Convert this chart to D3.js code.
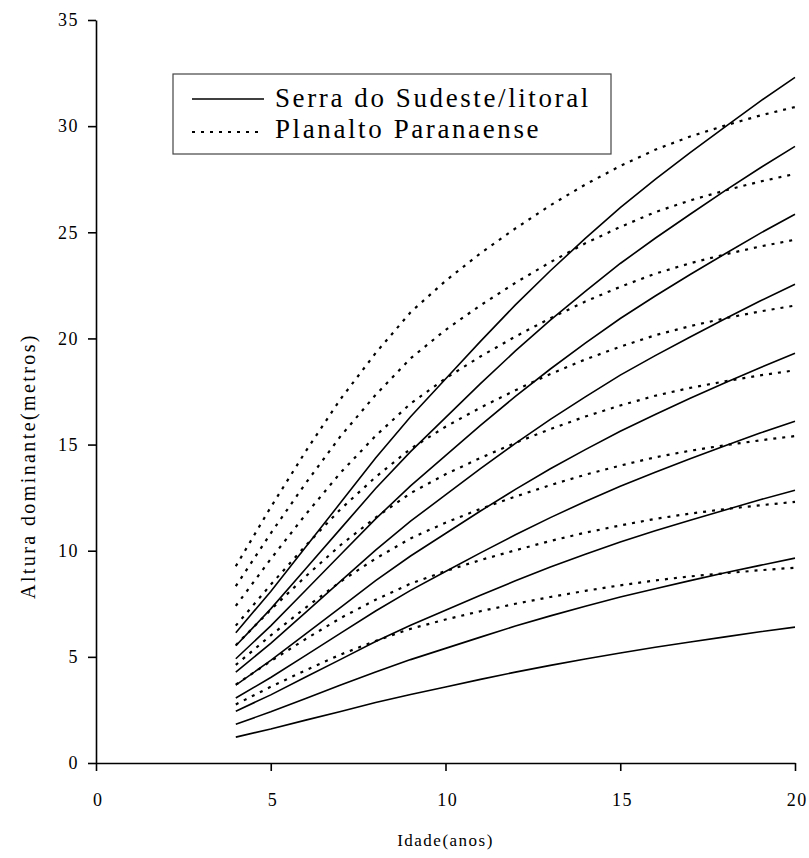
<!DOCTYPE html>
<meta charset="utf-8">
<title>Altura dominante x Idade</title>
<style>
body {
  margin: 0;
  background: #fff;
}
svg text {
  font-family: "Liberation Serif", "Times New Roman", "DejaVu Serif", serif;
  fill: #000;
}
.axis path, .axis line {
  stroke: #000;
  stroke-width: 1.6px;
}
.axis text {
  font-size: 18px;
  letter-spacing: 1.5px;
}
.serra {
  fill: none;
  stroke: #000;
  stroke-width: 1.6px;
}
.planalto {
  fill: none;
  stroke: #000;
  stroke-width: 2.2px;
  stroke-dasharray: 3,6;
}
</style>
<body>
<script src="https://d3js.org/d3.v7.min.js"></script>
<script>
var w = 809,
    h = 858,
    margin = {top: 20, right: 14, bottom: 95, left: 96};

var ages = [4, 5, 6, 7, 8, 9, 10, 11, 12, 13, 14, 15, 16, 17, 18, 19, 20];

// Serra do Sudeste/litoral (solid curves), one array per site class
var serra = [
  [1.22, 1.60, 2.02, 2.43, 2.85, 3.23, 3.58, 3.94, 4.28, 4.60, 4.90, 5.18, 5.45, 5.70, 5.94, 6.18, 6.40],
  [1.83, 2.41, 3.04, 3.67, 4.29, 4.87, 5.40, 5.93, 6.45, 6.93, 7.38, 7.82, 8.21, 8.59, 8.96, 9.31, 9.65],
  [2.44, 3.21, 4.05, 4.88, 5.72, 6.49, 7.20, 7.90, 8.58, 9.23, 9.83, 10.41, 10.94, 11.44, 11.92, 12.40, 12.85],
  [3.06, 4.03, 5.07, 6.12, 7.16, 8.13, 9.02, 9.90, 10.75, 11.56, 12.32, 13.04, 13.70, 14.33, 14.94, 15.54, 16.10],
  [3.67, 4.83, 6.08, 7.33, 8.59, 9.75, 10.81, 11.87, 12.89, 13.86, 14.76, 15.63, 16.42, 17.18, 17.91, 18.62, 19.30],
  [4.28, 5.64, 7.10, 8.57, 10.03, 11.39, 12.63, 13.87, 15.06, 16.19, 17.25, 18.27, 19.19, 20.07, 20.93, 21.76, 22.55],
  [4.91, 6.46, 8.14, 9.82, 11.50, 13.05, 14.48, 15.90, 17.27, 18.56, 19.78, 20.94, 22.00, 23.01, 23.99, 24.95, 25.85],
  [5.52, 7.26, 9.15, 11.04, 12.93, 14.67, 16.27, 17.87, 19.41, 20.86, 22.22, 23.53, 24.72, 25.85, 26.96, 28.03, 29.05],
  [6.14, 8.08, 10.17, 12.27, 14.37, 16.31, 18.09, 19.86, 21.58, 23.19, 24.71, 26.16, 27.49, 28.75, 29.97, 31.17, 32.30]
];

// Planalto Paranaense (dotted curves)
var planalto = [
  [2.76, 3.59, 4.37, 5.11, 5.75, 6.32, 6.76, 7.15, 7.50, 7.82, 8.11, 8.37, 8.60, 8.79, 8.94, 9.08, 9.20],
  [3.69, 4.80, 5.84, 6.83, 7.69, 8.45, 9.04, 9.56, 10.02, 10.46, 10.85, 11.19, 11.50, 11.75, 11.96, 12.14, 12.30],
  [4.62, 6.01, 7.32, 8.55, 9.63, 10.58, 11.32, 11.97, 12.55, 13.09, 13.58, 14.01, 14.40, 14.71, 14.97, 15.20, 15.40],
  [5.55, 7.22, 8.79, 10.27, 11.56, 12.71, 13.60, 14.37, 15.08, 15.73, 16.32, 16.84, 17.30, 17.67, 17.98, 18.26, 18.50],
  [6.47, 8.40, 10.24, 11.96, 13.47, 14.80, 15.84, 16.74, 17.56, 18.32, 19.01, 19.61, 20.15, 20.58, 20.95, 21.27, 21.55],
  [7.40, 9.61, 11.71, 13.68, 15.41, 16.93, 18.12, 19.15, 20.09, 20.95, 21.74, 22.43, 23.05, 23.54, 23.96, 24.33, 24.65],
  [8.33, 10.82, 13.18, 15.40, 17.34, 19.06, 20.40, 21.56, 22.62, 23.59, 24.48, 25.25, 25.95, 26.50, 26.97, 27.39, 27.75],
  [9.27, 12.05, 14.68, 17.15, 19.31, 21.23, 22.71, 24.01, 25.18, 26.27, 27.25, 28.12, 28.89, 29.51, 30.03, 30.50, 30.90]
];

var legendLabels = ["Serra do Sudeste/litoral", "Planalto Paranaense"];
var xTicks = [0, 5, 10, 15, 20],
    yTicks = [0, 5, 10, 15, 20, 25, 30, 35];

var svg = d3.select("body").append("svg")
    .attr("width", w)
    .attr("height", h);

var x = d3.scaleLinear().domain([0, 20]).range([margin.left, w - margin.right]);
var y = d3.scaleLinear().domain([0, 35]).range([h - margin.bottom, margin.top]);

var line = d3.line()
    .x(function(d, i) { return x(ages[i]); })
    .y(function(d) { return y(d); });

svg.append("g")
    .attr("class", "axis")
    .attr("transform", "translate(0," + y(0) + ")")
    .call(d3.axisBottom(x).tickValues(xTicks).tickSize(8).tickPadding(22).tickSizeOuter(0))
    .selectAll("text").attr("dx", "0.1em");

svg.append("g")
    .attr("class", "axis")
    .attr("transform", "translate(" + x(0) + ",0)")
    .call(d3.axisLeft(y).tickValues(yTicks).tickSize(8).tickPadding(9).tickSizeOuter(0));

svg.selectAll("path.planalto")
    .data(planalto)
  .enter().append("path")
    .attr("class", "planalto")
    .attr("d", line);

svg.selectAll("path.serra")
    .data(serra)
  .enter().append("path")
    .attr("class", "serra")
    .attr("d", line);

svg.append("text")
    .attr("x", x(10))
    .attr("y", 846)
    .attr("text-anchor", "middle")
    .style("font-size", "17px")
    .style("letter-spacing", "1.5px")
    .text("Idade(anos)");

svg.append("text")
    .attr("transform", "translate(35,466)rotate(-90)")
    .attr("text-anchor", "middle")
    .style("font-size", "20px")
    .style("letter-spacing", "2.4px")
    .text("Altura dominante(metros)");

// legend
var lg = svg.append("g");
lg.append("rect")
    .attr("x", 173)
    .attr("y", 74)
    .attr("width", 438)
    .attr("height", 80)
    .attr("fill", "#fff")
    .attr("stroke", "#444")
    .attr("stroke-width", 1.2);

lg.selectAll("line")
    .data(legendLabels)
  .enter().append("line")
    .attr("class", function(d, i) { return i ? "planalto" : "serra"; })
    .attr("x1", 192)
    .attr("x2", 264)
    .attr("y1", function(d, i) { return 99 + i * 33; })
    .attr("y2", function(d, i) { return 99 + i * 33; });

lg.selectAll("text")
    .data(legendLabels)
  .enter().append("text")
    .attr("x", 275)
    .attr("y", function(d, i) { return 107 + i * 31; })
    .style("font-size", "27px")
    .style("letter-spacing", "2.6px")
    .text(function(d) { return d; });
</script>
